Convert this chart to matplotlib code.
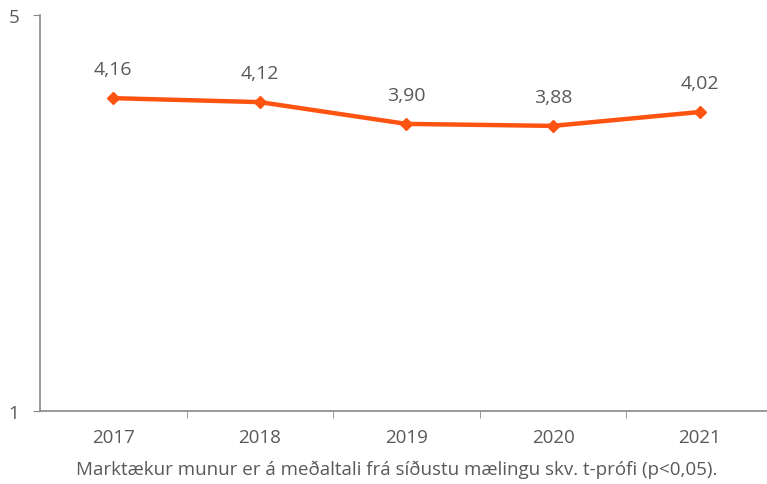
import matplotlib.pyplot as plt
from matplotlib.ticker import FixedLocator

years = ["2017", "2018", "2019", "2020", "2021"]
values = [4.16, 4.12, 3.90, 3.88, 4.02]
labels = ["4,16", "4,12", "3,90", "3,88", "4,02"]
note = "Marktækur munur er á meðaltali frá síðustu mælingu skv. t-prófi (p<0,05)."

plt.rcParams['font.family'] = ['Open Sans', 'DejaVu Sans']
grey = '#595959'
line_col = '#FF5312'

fig = plt.figure(figsize=(7.67, 4.85), dpi=100)
ax = fig.add_axes([40/767, 73/485, 1 - 40/767, (412-16)/485])

x = list(range(len(years)))
ax.plot(x, values, color=line_col, lw=3.2, marker='D', ms=6, zorder=3)
for xi, v, lab in zip(x, values, labels):
    ax.annotate(lab, (xi, v), xytext=(0, 14.5), textcoords='offset points',
                ha='center', va='bottom', fontsize=14, color=grey)

ax.set_xlim(-0.5, 4.46)
ax.set_ylim(1, 5)
ax.set_yticks([1, 5])
ax.set_yticklabels(["1", "5"])
ax.set_xticks(x)
ax.set_xticklabels(years)
ax.xaxis.set_minor_locator(FixedLocator([0.5, 1.5, 2.5, 3.5]))
ax.tick_params(axis='x', which='major', length=0, pad=12, labelsize=13.5, labelcolor=grey)
ax.tick_params(axis='x', which='minor', length=5, direction='out', color='#888888')
ax.tick_params(axis='y', length=5, color='#888888', labelsize=13.5, labelcolor=grey, pad=10)

for s in ['top', 'right']:
    ax.spines[s].set_visible(False)
for s in ['left', 'bottom']:
    ax.spines[s].set_color('#888888')
    ax.spines[s].set_linewidth(1.2)

fig.text(397/767, 1 - 470/485, note, ha='center', va='center', fontsize=13.5, color=grey)

fig.savefig("out.png", dpi=100)
